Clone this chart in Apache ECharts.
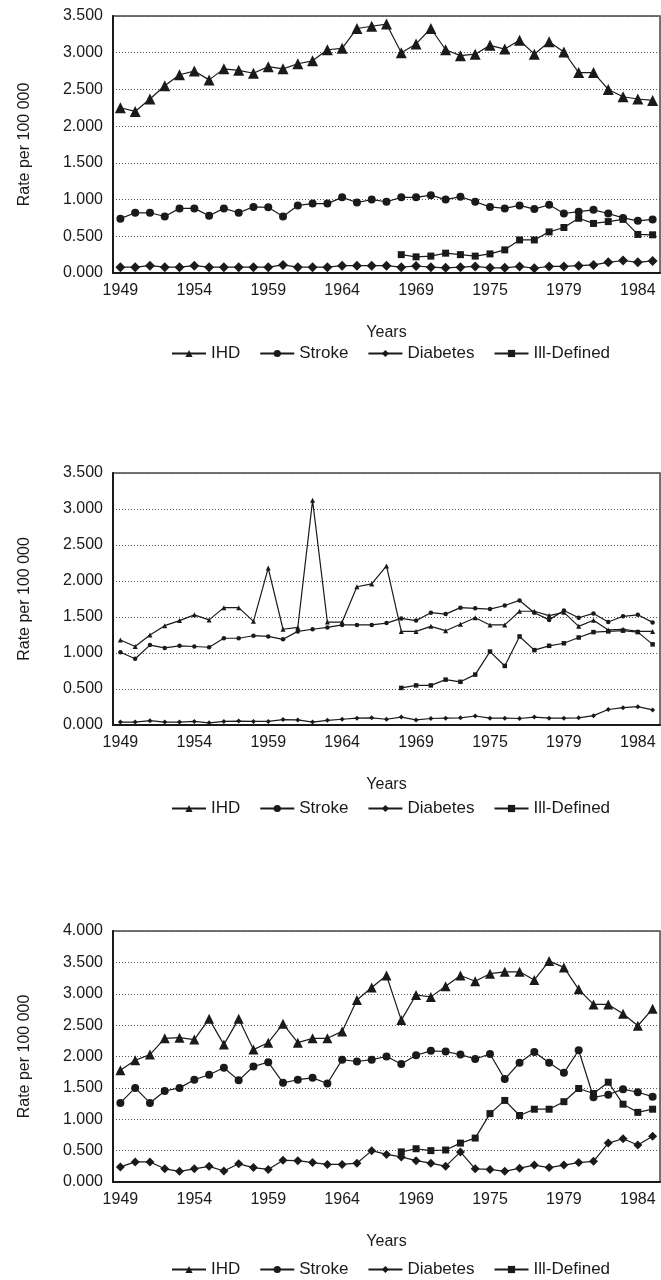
<!DOCTYPE html>
<html><head><meta charset="utf-8">
<script src="https://cdn.jsdelivr.net/npm/echarts@6/dist/echarts.min.js"></script>
<style>html,body{margin:0;padding:0;background:#fff}#c{width:661px;height:1280px}</style>
</head><body><div id="c"></div>
<script>
const years = ['1949','1950','1951','1952','1953','1954','1955','1956','1957','1958','1959','1960','1961','1962','1963','1964','1965','1966','1967','1968','1969','1970','1971','1972','1973','1974','1975','1976','1977','1978','1979','1980','1981','1982','1983','1984','1985'];
const tickLabels = ['1949','1954','1959','1964','1969','1975','1979','1984'];
const seriesNames = ['IHD','Stroke','Diabetes','Ill-Defined'];
const N = null;

// Panel 1
const p1IHD = [2.25,2.20,2.37,2.55,2.70,2.75,2.63,2.78,2.76,2.72,2.81,2.78,2.85,2.89,3.04,3.06,3.33,3.36,3.39,3.00,3.12,3.33,3.04,2.96,2.98,3.10,3.05,3.17,2.98,3.15,3.01,2.73,2.73,2.50,2.40,2.37,2.35];
const p1Stroke = [0.74,0.82,0.82,0.77,0.88,0.88,0.78,0.88,0.82,0.90,0.895,0.77,0.92,0.945,0.945,1.03,0.96,1.00,0.97,1.03,1.03,1.06,1.00,1.04,0.97,0.90,0.88,0.92,0.87,0.93,0.81,0.835,0.86,0.81,0.75,0.71,0.73];
const p1Diabetes = [0.08,0.08,0.10,0.08,0.08,0.10,0.08,0.08,0.08,0.08,0.08,0.11,0.08,0.08,0.08,0.10,0.10,0.10,0.10,0.08,0.095,0.08,0.07,0.08,0.09,0.07,0.07,0.09,0.065,0.09,0.09,0.10,0.11,0.145,0.17,0.145,0.165];
const p1Ill = [N,N,N,N,N,N,N,N,N,N,N,N,N,N,N,N,N,N,N,0.25,0.22,0.23,0.27,0.25,0.23,0.26,0.315,0.45,0.45,0.56,0.62,0.745,0.675,0.70,0.73,0.525,0.52];

// Panel 2
const p2IHD = [1.18,1.09,1.25,1.38,1.45,1.53,1.46,1.63,1.63,1.44,2.18,1.33,1.355,3.12,1.43,1.43,1.92,1.96,2.21,1.30,1.30,1.37,1.31,1.40,1.49,1.39,1.39,1.58,1.58,1.52,1.565,1.37,1.455,1.32,1.33,1.30,1.30];
const p2Stroke = [1.01,0.92,1.11,1.07,1.10,1.09,1.08,1.205,1.205,1.24,1.23,1.19,1.30,1.33,1.355,1.39,1.39,1.39,1.415,1.48,1.45,1.56,1.54,1.63,1.62,1.61,1.66,1.73,1.56,1.46,1.59,1.49,1.55,1.43,1.51,1.53,1.425];
const p2Diabetes = [0.04,0.04,0.06,0.04,0.04,0.05,0.03,0.05,0.055,0.05,0.05,0.075,0.07,0.04,0.065,0.08,0.095,0.10,0.08,0.11,0.07,0.09,0.095,0.10,0.125,0.095,0.095,0.09,0.11,0.095,0.095,0.10,0.13,0.215,0.24,0.255,0.21];
const p2Ill = [N,N,N,N,N,N,N,N,N,N,N,N,N,N,N,N,N,N,N,0.515,0.55,0.55,0.63,0.60,0.70,1.02,0.82,1.23,1.04,1.10,1.135,1.215,1.29,1.30,1.31,1.29,1.12];

// Panel 3
const p3IHD = [1.78,1.94,2.03,2.29,2.30,2.27,2.60,2.19,2.60,2.11,2.22,2.52,2.22,2.29,2.29,2.40,2.90,3.10,3.29,2.58,2.98,2.95,3.12,3.29,3.20,3.32,3.35,3.35,3.22,3.52,3.42,3.07,2.83,2.83,2.68,2.49,2.76];
const p3Stroke = [1.26,1.50,1.26,1.45,1.50,1.63,1.71,1.82,1.62,1.84,1.91,1.58,1.63,1.66,1.57,1.95,1.92,1.95,2.00,1.88,2.02,2.09,2.08,2.03,1.96,2.04,1.64,1.90,2.07,1.90,1.74,2.10,1.35,1.39,1.48,1.43,1.36];
const p3Diabetes = [0.24,0.32,0.32,0.21,0.17,0.21,0.25,0.175,0.29,0.23,0.20,0.345,0.34,0.31,0.28,0.28,0.30,0.50,0.44,0.40,0.34,0.30,0.25,0.48,0.21,0.20,0.17,0.22,0.27,0.23,0.27,0.31,0.33,0.62,0.69,0.59,0.73];
const p3Ill = [N,N,N,N,N,N,N,N,N,N,N,N,N,N,N,N,N,N,N,0.48,0.53,0.50,0.51,0.62,0.70,1.09,1.30,1.06,1.16,1.16,1.28,1.49,1.41,1.59,1.24,1.11,1.16];

const panels = [
  {data:[p1IHD,p1Stroke,p1Diabetes,p1Ill], max:3.5, top:16, height:257, sizes:[11,8,10,7], legendTop:340},
  {data:[p2IHD,p2Stroke,p2Diabetes,p2Ill], max:3.5, top:473, height:252, sizes:[5,4.5,5,4.5], legendTop:795},
  {data:[p3IHD,p3Stroke,p3Diabetes,p3Ill], max:4.0, top:931, height:251, sizes:[10,8,9,7], legendTop:1256}
];
const symbols = ['triangle','circle','diamond','rect'];
const FONT = '"Liberation Sans", Arial, sans-serif';
const INK = '#1a1a1a';

const grid = [], xAxis = [], yAxis = [], series = [], legend = [];
panels.forEach((p, k) => {
  grid.push({left:113, width:547, top:p.top, height:p.height, show:true, borderColor:'#444', borderWidth:1.5, containLabel:false});
  xAxis.push({
    type:'category', gridIndex:k, data:years, boundaryGap:true,
    axisLine:{show:true, lineStyle:{color:INK, width:2}},
    axisTick:{show:false},
    axisLabel:{interval:4, margin:10, color:INK, fontFamily:FONT, fontSize:16,
      formatter:(v, i) => tickLabels[Math.round(i/5)]},
    name:'Years', nameLocation:'middle', nameGap:52,
    nameTextStyle:{color:INK, fontFamily:FONT, fontSize:16}
  });
  yAxis.push({
    type:'value', gridIndex:k, min:0, max:p.max, interval:0.5,
    axisLine:{show:true, lineStyle:{color:INK, width:2}},
    axisTick:{show:false},
    axisLabel:{margin:10, color:INK, fontFamily:FONT, fontSize:16, formatter:v => v.toFixed(3)},
    splitLine:{show:true, lineStyle:{color:'#555', type:[1,2], width:1}},
    name:'Rate per 100 000', nameLocation:'middle', nameGap:80, nameRotate:90,
    nameTextStyle:{color:INK, fontFamily:FONT, fontSize:16}
  });
  seriesNames.forEach((nm, j) => {
    series.push({
      type:'line', name:nm, xAxisIndex:k, yAxisIndex:k, data:p.data[j],
      symbol:symbols[j], symbolSize:p.sizes[j], showSymbol:true, showAllSymbol:true,
      lineStyle:{color:INK, width:1.2}, itemStyle:{color:INK},
      connectNulls:false, z:2+j, animation:false
    });
  });
  legend.push({
    data:seriesNames, left:166, top:p.legendTop, itemWidth:34, itemHeight:9, itemGap:19,
    textStyle:{color:INK, fontFamily:FONT, fontSize:17}, selectedMode:false
  });
});

const chart = echarts.init(document.getElementById('c'), null, {renderer:'canvas'});
chart.setOption({animation:false, backgroundColor:'#fff', color:[INK,INK,INK,INK], grid, xAxis, yAxis, series, legend});
</script></body></html>
